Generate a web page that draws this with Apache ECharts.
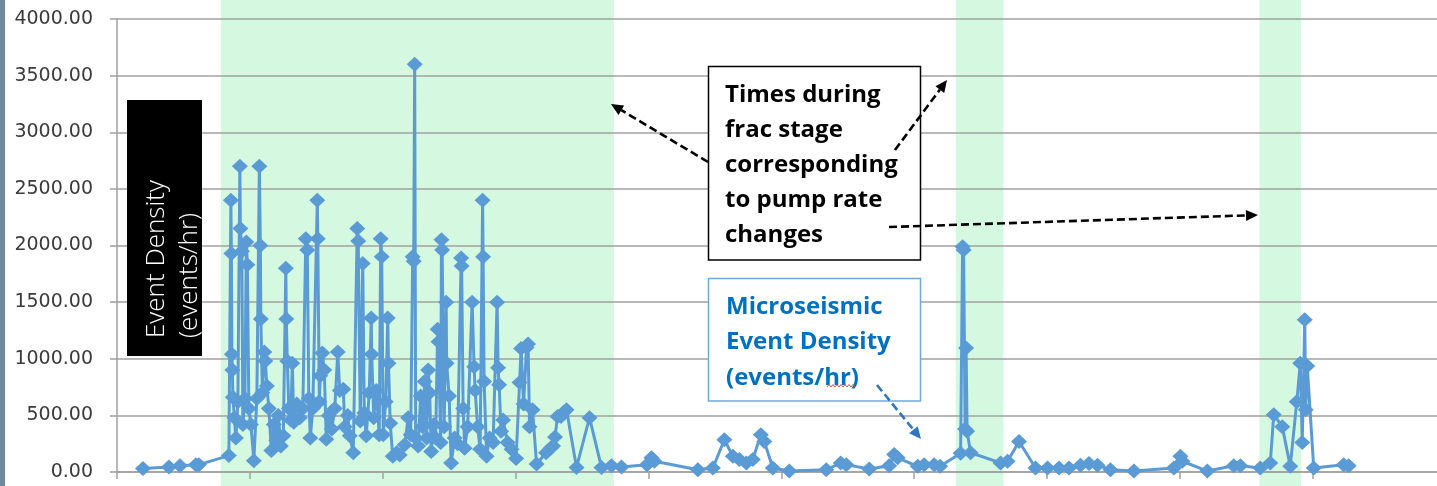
<!DOCTYPE html>
<html><head><meta charset="utf-8">
<script src="https://cdn.jsdelivr.net/npm/echarts@6/dist/echarts.min.js"></script>
<style>html,body{margin:0;padding:0;background:#fff;}#c{width:1437px;height:486px;}</style>
</head><body><div id="c"></div>
<script>
// elapsed time (arbitrary units, 133 per major tick) and event density (events/hr)
const elapsedTime = [26,52,63,79,82,112,114,114.5,115,115.5,116,117.5,119,121,123,123.5,125,126,128,129.5,130.5,132,134,137,140,142.5,143.5,144,145.5,147.5,148.5,150,152,154.5,157,159.5,161.5,164,166.5,169,169.5,170.5,172,174,175.5,177,180,183,186,189,190.5,192,193.5,196,200.5,201,202.5,203.5,205.5,207.5,209.5,212,215,218,221,223,226.5,228,231,233,236.5,240.5,241.5,243.5,246,247.5,249.5,252.5,254.5,255,257,259.5,262.5,264,265,266.5,269,271,271.8,273.5,276,280,283,288,291.5,294,296,297,298,299,301.5,304,306,308,310,311.5,313,314.5,317,319,321,321.8,324,324.8,325.5,327.5,329.5,330,332.5,334.5,338,341,344.5,345,346.5,348,351,355.5,357.5,358.5,361,363.5,366,366.5,367.5,370,373,376.5,380.5,381.5,382.5,384.5,386.5,391,395,399.5,403,404.5,407,410,411.5,413,416,420,429.5,434,436.5,438.5,441,444.5,447.5,450,460,473,485,495,505,530.5,535,538,581.5,596.5,608,616.5,623,630,636.5,644.5,648,656.5,673,710,724.5,730,753,773,778,781.5,801.5,808,818,824,844.5,846.5,847.5,849,850,851,854.5,884.5,891.5,903,919.5,931.5,943,953,964.5,973,981.5,994.5,1018,1058,1064.5,1066.5,1091.5,1118,1124.5,1144.5,1154.5,1158,1166.5,1174.5,1181,1184.5,1186.5,1189,1190,1191.5,1198,1228,1233];
const eventDensity = [30,45,55,65,65,145,2400,1930,1040,900,660,480,300,620,2700,2150,1950,420,650,2030,1830,560,420,100,650,2700,2000,1350,700,1060,980,760,560,190,420,280,500,230,320,1800,1350,980,560,460,960,440,600,480,560,2060,1960,650,300,560,2400,2060,620,850,1050,900,290,500,380,560,1060,720,730,400,500,320,170,2150,2040,450,1840,520,320,700,1360,1040,480,720,330,2060,1900,330,620,1360,960,430,140,170,150,240,480,330,1900,1860,3600,300,230,670,400,800,300,900,700,180,420,300,1260,1150,260,2050,1960,400,1500,960,670,80,300,250,1890,1820,560,210,400,1500,930,720,400,200,2400,1900,800,140,300,260,1500,920,770,360,460,260,200,120,790,1090,600,1100,1130,400,550,70,170,210,230,310,490,490,530,550,40,480,40,55,45,65,125,95,20,35,285,140,110,80,110,330,270,35,8,20,80,65,27,55,155,125,50,65,65,50,165,1990,1960,380,1095,360,170,80,95,270,36,36,36,36,60,75,60,20,8,36,140,95,8,55,55,36,80,506,400,50,620,960,260,1345,550,935,36,65,55];
// pump-rate-change windows (same time units)
const bandStart = [104, 839.7, 1143.7];
const bandEnd = [497.3, 887.3, 1185.3];

const seriesData = elapsedTime.map((t, i) => [t, eventDensity[i]]);
const bandData = bandStart.map((s, i) => [s, bandEnd[i]]);

function arrow(x1, y1, x2, y2, color) {
  const dx = x2 - x1, dy = y2 - y1, L = Math.hypot(dx, dy), ux = dx / L, uy = dy / L;
  const hl = 12, hw = 5.5;
  const bx = x2 - ux * hl, by = y2 - uy * hl;
  return [
    {type: 'line', z: 11, shape: {x1: x1, y1: y1, x2: bx, y2: by}, style: {stroke: color, lineWidth: 2.6, lineDash: [8, 4]}},
    {type: 'polygon', z: 11, shape: {points: [[x2, y2], [bx - uy * hw, by + ux * hw], [bx + uy * hw, by - ux * hw]]}, style: {fill: color}}
  ];
}
const squiggle = [];
for (let x = 827, k = 0; x <= 855; x += 2, k++) squiggle.push([x, k % 2 ? 384.5 : 387]);

const gray = '#a0a0a0';
const chart = echarts.init(document.getElementById('c'));
chart.setOption({
  animation: false,
  backgroundColor: '#fff',
  grid: [
    {left: 117, right: -8.6, top: 19, bottom: 14, outerBoundsMode: 'none'},
    {left: 117, right: -8.6, top: 0, bottom: 0, outerBoundsMode: 'none'}
  ],
  xAxis: [
    {type: 'value', gridIndex: 0, min: 0, max: 1330, interval: 133, z: 1,
     axisLine: {show: true, lineStyle: {color: gray, width: 1.5}},
     axisTick: {show: true, length: 7, lineStyle: {color: gray, width: 1.5}},
     axisLabel: {show: false}, splitLine: {show: false}},
    {type: 'value', gridIndex: 1, min: 0, max: 1330, show: false}
  ],
  yAxis: [
    {type: 'value', gridIndex: 0, min: 0, max: 4000, interval: 500, z: 1,
     axisLine: {show: true, lineStyle: {color: gray, width: 1.5}},
     axisTick: {show: true, length: 7, lineStyle: {color: gray, width: 1.5}},
     axisLabel: {formatter: v => v.toFixed(2), fontFamily: 'DejaVu Sans', fontSize: 19, color: '#3a3a3a', margin: 24},
     splitLine: {show: true, lineStyle: {color: gray, width: 1.5}}},
    {type: 'value', gridIndex: 1, min: 0, max: 1, show: false}
  ],
  series: [
    {type: 'custom', xAxisIndex: 1, yAxisIndex: 1, z: 0, silent: true, data: bandData,
     encode: {x: [0, 1]},
     renderItem: (params, api) => {
       const p0 = api.coord([api.value(0), 1]);
       const p1 = api.coord([api.value(1), 0]);
       return {type: 'rect', shape: {x: p0[0], y: p0[1], width: p1[0] - p0[0], height: p1[1] - p0[1]}, style: {fill: '#d5f9e0'}};
     }},
    {type: 'line', xAxisIndex: 0, yAxisIndex: 0, z: 3, data: seriesData, clip: false,
     symbol: 'diamond', symbolSize: [16, 15], showAllSymbol: true,
     lineStyle: {color: '#5b9bd5', width: 3}, itemStyle: {color: '#5b9bd5'}}
  ],
  graphic: [
    {type: 'rect', z: 10, shape: {x: 0, y: 0, width: 5, height: 486}, style: {fill: '#72869c'}},
    {type: 'rect', z: 10, shape: {x: 127, y: 100, width: 75, height: 256}, style: {fill: '#000'}},
    {type: 'text', z: 12, x: 140, y: 338, rotation: Math.PI / 2,
     style: {text: 'Event Density\n(events/hr)', font: '300 26px "Open Sans"', fill: '#fff', lineHeight: 33}},
    {type: 'rect', z: 10, shape: {x: 708.5, y: 66.5, width: 212, height: 193.5}, style: {fill: '#fff', stroke: '#000', lineWidth: 1.5}},
    {type: 'text', z: 12, x: 725, y: 77.5,
     style: {text: 'Times during\nfrac stage\ncorresponding\nto pump rate\nchanges', font: 'bold 24px "Open Sans"', fill: '#000', lineHeight: 35}},
    {type: 'rect', z: 10, shape: {x: 708.5, y: 278.5, width: 212, height: 122.5}, style: {fill: '#fff', stroke: '#6fa8dc', lineWidth: 1.5}},
    {type: 'text', z: 12, x: 726, y: 289,
     style: {text: 'Microseismic\nEvent Density\n(events/hr)', font: 'bold 24px "Open Sans"', fill: '#0070c0', lineHeight: 35.5}},
    {type: 'polyline', z: 12, shape: {points: squiggle}, style: {stroke: '#e05050', lineWidth: 1}},
    ...arrow(708, 162, 611, 104, '#000'),
    ...arrow(895, 150, 947, 80, '#000'),
    ...arrow(889, 227, 1258, 215, '#000'),
    ...arrow(877, 385, 921, 439, '#2e75c0')
  ]
});
</script></body></html>
